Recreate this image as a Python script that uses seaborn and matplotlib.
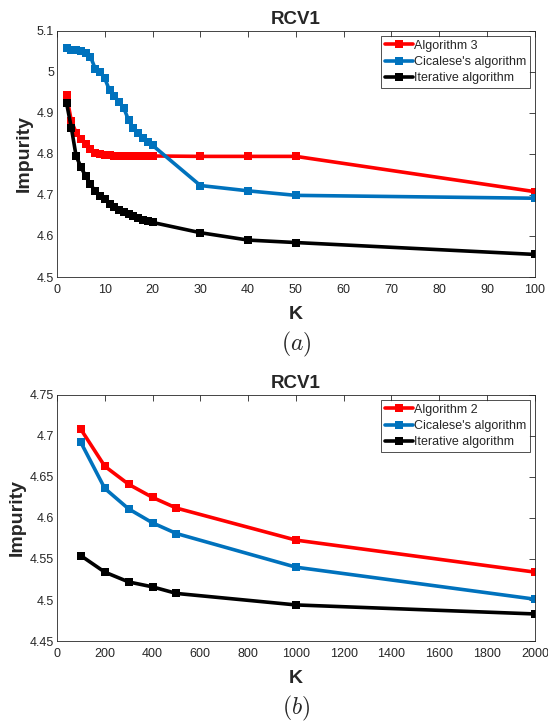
import matplotlib
matplotlib.use('Agg')
import matplotlib.pyplot as plt
import seaborn as sns
import pandas as pd
import numpy as np

# --- datos (a) ---
k_a = [2, 3, 4, 5, 6, 7, 8, 9, 10, 11, 12, 13, 14, 15, 16, 17, 18, 19, 20, 30, 40, 50, 100]
alg3_a = [4.943, 4.880, 4.852, 4.836, 4.824, 4.812, 4.802, 4.799, 4.797, 4.797, 4.796, 4.796,
          4.796, 4.796, 4.796, 4.795, 4.795, 4.795, 4.795, 4.794, 4.794, 4.794, 4.708]
cica_a = [5.057, 5.053, 5.053, 5.051, 5.045, 5.037, 5.008, 5.000, 4.984, 4.955, 4.941, 4.927,
          4.911, 4.882, 4.862, 4.850, 4.839, 4.829, 4.821, 4.723, 4.710, 4.699, 4.692]
iter_a = [4.924, 4.864, 4.795, 4.768, 4.746, 4.726, 4.709, 4.697, 4.691, 4.677, 4.671, 4.663,
          4.658, 4.654, 4.649, 4.644, 4.638, 4.636, 4.633, 4.608, 4.590, 4.584, 4.555]

# --- datos (b) ---
k_b = [100, 200, 300, 400, 500, 1000, 2000]
alg2_b = [4.708, 4.663, 4.641, 4.625, 4.612, 4.573, 4.534]
cica_b = [4.692, 4.636, 4.611, 4.594, 4.581, 4.540, 4.501]
iter_b = [4.554, 4.534, 4.522, 4.516, 4.508, 4.494, 4.483]

x_ticks_a = list(range(0, 101, 10))
y_ticks_a = [4.5, 4.6, 4.7, 4.8, 4.9, 5.0, 5.1]
y_labels_a = ['4.5', '4.6', '4.7', '4.8', '4.9', '5', '5.1']
x_ticks_b = list(range(0, 2001, 200))
y_ticks_b = [4.45, 4.5, 4.55, 4.6, 4.65, 4.7, 4.75]
y_labels_b = ['4.45', '4.5', '4.55', '4.6', '4.65', '4.7', '4.75']

colores = ['#FF0000', '#0072BD', '#000000']

sns.set_style('white')
plt.rcParams['font.family'] = ['Liberation Sans', 'DejaVu Sans']
plt.rcParams['mathtext.fontset'] = 'cm'

fig = plt.figure(figsize=(5.48, 7.24), dpi=100)
ax1 = fig.add_axes([0.104, 0.6174, 0.872, 0.340])
ax2 = fig.add_axes([0.104, 0.1146, 0.872, 0.340])


def dibujar(ax, k, series, nombres, xticks, yticks, ylabels, xlim, ylim, letra):
    df = pd.DataFrame({'K': k * len(series),
                       'Impurity': [v for s in series for v in s],
                       'metodo': [n for n, s in zip(nombres, series) for _ in s]})
    sns.lineplot(data=df, x='K', y='Impurity', hue='metodo', palette=colores,
                 marker='s', markersize=5.5, markeredgewidth=0, linewidth=2.6,
                 ax=ax, sort=False)
    ax.set_xlim(*xlim)
    ax.set_ylim(*ylim)
    ax.set_xticks(xticks)
    ax.set_xticklabels([str(t) for t in xticks])
    ax.set_yticks(yticks)
    ax.set_yticklabels(ylabels)
    ax.tick_params(direction='in', top=True, right=True, length=4, width=0.6,
                   labelsize=9, colors='#262626', pad=2)
    ax.tick_params(axis='x', pad=5)
    for s in ax.spines.values():
        s.set_linewidth(0.6)
        s.set_color('#262626')
    ax.set_title('RCV1', fontsize=13.5, fontweight='bold', pad=5)
    ax.set_xlabel('K', fontsize=14, fontweight='bold', labelpad=7)
    ax.set_ylabel('Impurity', fontsize=14, fontweight='bold', labelpad=3)
    leg = ax.legend(loc='upper right', fontsize=9, frameon=True, fancybox=False,
                    handlelength=2.2, handletextpad=0.1, borderpad=0.3,
                    labelspacing=0.35, borderaxespad=0.4)
    leg.get_frame().set_edgecolor('black')
    leg.get_frame().set_linewidth(0.6)
    ax.text(0.5, -0.275, letra, transform=ax.transAxes, ha='center', va='center',
            fontsize=17)


dibujar(ax1, k_a, [alg3_a, cica_a, iter_a],
        ['Algorithm 3', "Cicalese's algorithm", 'Iterative algorithm'],
        x_ticks_a, y_ticks_a, y_labels_a, (0, 100), (4.5, 5.1), r'$(a)$')
dibujar(ax2, k_b, [alg2_b, cica_b, iter_b],
        ['Algorithm 2', "Cicalese's algorithm", 'Iterative algorithm'],
        x_ticks_b, y_ticks_b, y_labels_b, (0, 2000), (4.45, 4.75), r'$(b)$')

fig.savefig('out.png', dpi=100)
